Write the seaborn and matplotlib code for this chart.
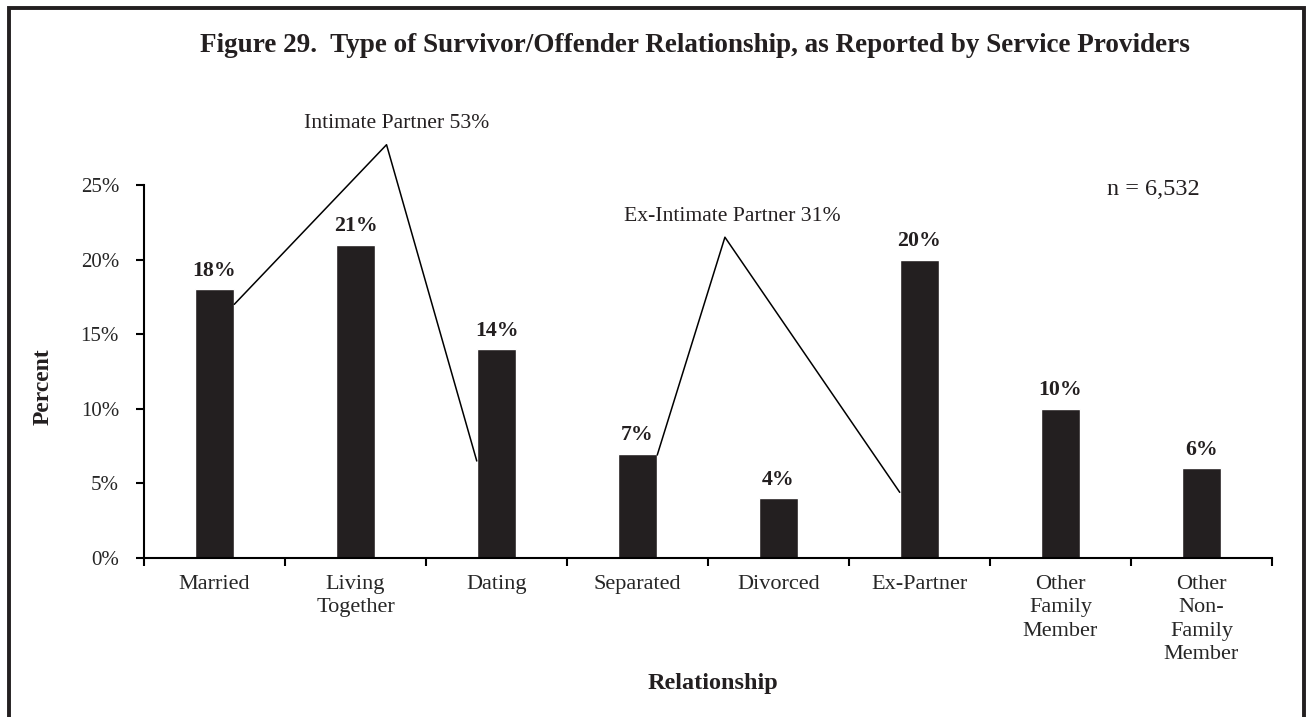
import matplotlib
matplotlib.use("Agg")
import matplotlib.pyplot as plt
import seaborn as sns
import pandas as pd
from matplotlib.patches import Rectangle

# datos
categorias = ["Married", "Living\nTogether", "Dating", "Separated", "Divorced",
              "Ex-Partner", "Other\nFamily\nMember", "Other\nNon-\nFamily\nMember"]
porcentajes = [18, 21, 14, 7, 4, 20, 10, 6]
y_ticks = [0, 5, 10, 15, 20, 25]

# grupos marcados con lineas (x en unidades de categoria, y en %)
grupo1_label = "Intimate Partner 53%"
grupo1_x = [0.14, 1.22, 1.86]
grupo1_y = [17.0, 27.7, 6.5]
grupo2_label = "Ex-Intimate Partner 31%"
grupo2_x = [3.14, 3.62, 4.86]
grupo2_y = [6.9, 21.5, 4.4]

color_barra = "#231f20"

sns.set_theme(style="white")
plt.rcParams["font.family"] = ["Liberation Serif", "DejaVu Serif"]
plt.rcParams["text.color"] = color_barra

df = pd.DataFrame({"Relationship": categorias, "Percent": porcentajes})

fig = plt.figure(figsize=(13.07, 7.17), dpi=100)
ax = fig.add_axes([0.1102, 0.2218, 0.8630, 0.5202])

sns.barplot(data=df, x="Relationship", y="Percent", color=color_barra,
            width=0.28, saturation=1, ax=ax)

for i, v in enumerate(porcentajes):
    ax.annotate(f"{v}%", (i, v), xytext=(0, 6), textcoords="offset points",
                ha="center", va="bottom", fontsize=15.75, fontweight="bold")

ax.plot(grupo1_x, grupo1_y, color="black", lw=1.1, clip_on=False)
ax.plot(grupo2_x, grupo2_y, color="black", lw=1.1, clip_on=False)
ax.text(1.29, 29.1, grupo1_label, ha="center", va="center", fontsize=15.6)
ax.text(3.67, 22.9, grupo2_label, ha="center", va="center", fontsize=15.6)
ax.text(6.66, 24.7, "n = 6,532", ha="center", va="center", fontsize=17.5)

ax.set_xlim(-0.5, len(categorias) - 0.5)
ax.set_ylim(0, 25)
ax.set_yticks(y_ticks)
ax.set_yticklabels([f"{t}%" for t in y_ticks], fontsize=15)
ax.set_xticks(range(len(categorias)))
ax.set_xticklabels(categorias, fontsize=16, linespacing=1.33, va="top")
ax.set_xticks([i - 0.5 for i in range(len(categorias) + 1)], minor=True)
ax.tick_params(axis="x", which="major", length=0, pad=12)
ax.tick_params(axis="x", which="minor", length=6, width=1.5, direction="out",
               bottom=True, color="black")
ax.tick_params(axis="y", length=6, width=1.5, direction="out", left=True,
               color="black", pad=12)

for s in ["top", "right"]:
    ax.spines[s].set_visible(False)
for s in ["left", "bottom"]:
    ax.spines[s].set_color("black")
    ax.spines[s].set_linewidth(1.5)

ax.set_xlabel("")
ax.set_ylabel("")
fig.text(0.0329, 0.461, "Percent", rotation=90, ha="center", va="center",
         fontsize=17, fontweight="bold")
fig.text(0.5455, 0.047, "Relationship", ha="center", va="center",
         fontsize=17.5, fontweight="bold")
fig.text(0.5318, 0.937,
         "Figure 29.  Type of Survivor/Offender Relationship, as Reported by Service Providers",
         ha="center", va="center", fontsize=19.5, fontweight="bold")

# marco
fig.patches.append(Rectangle((0.0069, -0.05), 0.9905, 1.039, transform=fig.transFigure,
                             fill=False, edgecolor=color_barra, linewidth=2.8))

fig.savefig("out.png", dpi=100)
